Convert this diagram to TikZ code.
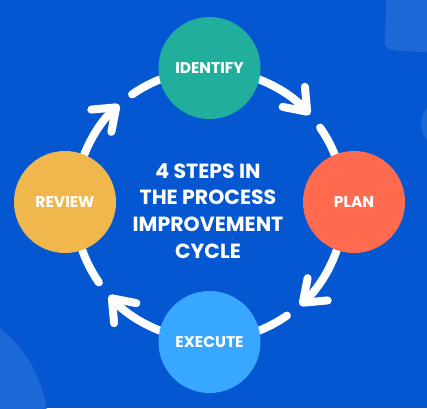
\documentclass[tikz,border=0pt]{standalone}
\usepackage{fontspec}
\setmainfont{Poppins}
\usetikzlibrary{arrows.meta}
\definecolor{bg}{HTML}{0457D0}
\definecolor{deco}{HTML}{1C68D6}
\definecolor{cid}{HTML}{22AE9D}
\definecolor{cplan}{HTML}{FF6B4E}
\definecolor{cexe}{HTML}{37A7FF}
\definecolor{crev}{HTML}{F0B84C}
\tikzset{
  stepcircle/.style={circle, minimum size=102pt, inner sep=0pt, text=white,
    font=\fontsize{15.5}{18}\selectfont\bfseries},
  flow/.style={draw=white, line width=8pt, line cap=round},
  flowarrow/.style={flow, -{Straight Barb[round,length=20pt,width=30pt]}},
  title/.style={text=white, align=center, font=\fontsize{20.5}{26.7}\selectfont\bfseries}
}
\begin{document}
\begin{tikzpicture}[x=1pt,y=-1pt]
\useasboundingbox (0,0) rectangle (427,408);
\fill[bg] (0,0) rectangle (427,408);
\begin{scope}
  \clip (0,0) rectangle (427,408);
  \fill[deco] (-80,428) circle[radius=128];
  \fill[deco] (446,124) circle[radius=25];
  \fill[deco, rounded corners=9pt, rotate around={-3:(384,50)}] (384,-30) rectangle (480,50);
\end{scope}
\coordinate (C) at (209.5,205);
% arcs
\foreach \s/\e/\t/\u in {-75/-42/-35/-15, 15/48/55/75, 105/138/145/165, 195/228/235/255}{
  \draw[flowarrow] ([shift={(\s:135)}]C) arc[start angle=\s, end angle=\e, radius=135];
  \draw[flow] ([shift={(\t:135)}]C) arc[start angle=\t, end angle=\u, radius=135];
}
\node[stepcircle, fill=cid]   (identify) at (209.5,68)  {IDENTIFY};
\node[stepcircle, fill=cplan] (plan)     at (354,202)   {PLAN};
\node[stepcircle, fill=cexe]  (execute)  at (209.5,342) {EXECUTE};
\node[stepcircle, fill=crev]  (review)   at (65,202)    {REVIEW};
\node[title] (center) at (208,211) {4 STEPS IN\\THE PROCESS\\IMPROVEMENT\\CYCLE};
\end{tikzpicture}
\end{document}
